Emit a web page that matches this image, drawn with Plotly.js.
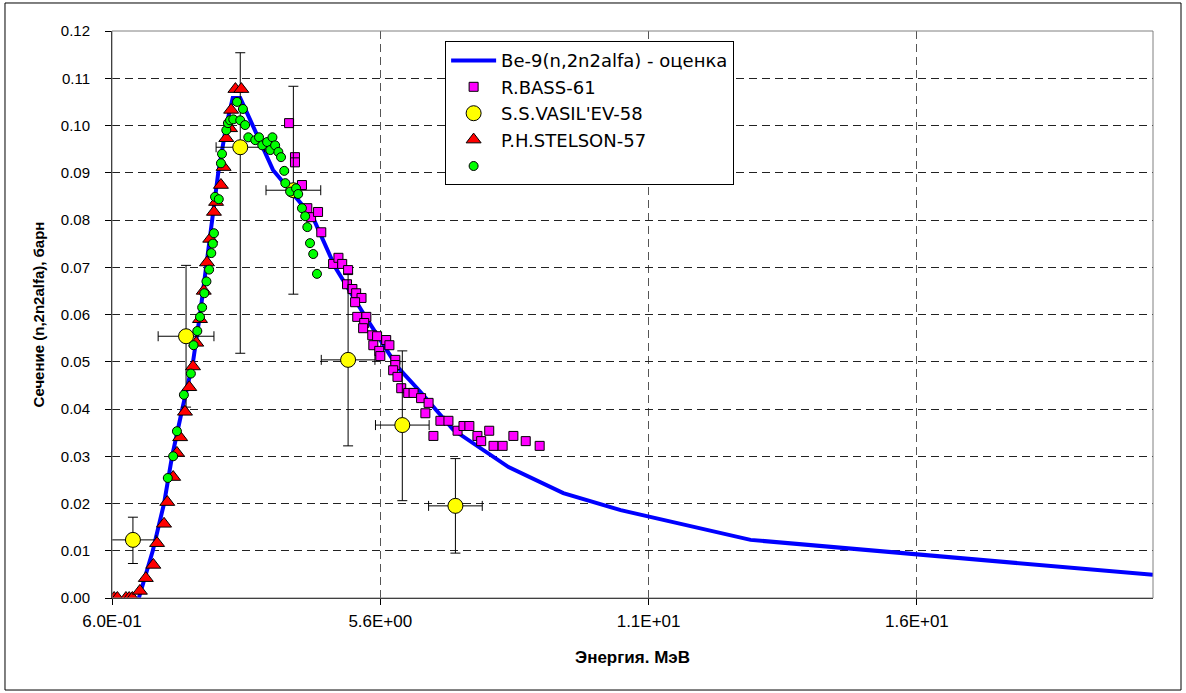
<!DOCTYPE html>
<html>
<head>
<meta charset="utf-8">
<script src="https://cdn.plot.ly/plotly-3.0.1.min.js"></script>
<style>html,body{margin:0;padding:0;background:#fff;}#chart{width:1186px;height:693px;}</style>
</head>
<body>
<div id="chart"></div>
<script>
// Evaluated curve Be-9(n,2n2alfa)
const evalE = [1.10,1.36,1.57,1.72,1.91,2.11,2.24,2.35,2.47,2.58,2.73,2.85,2.99,3.60,4.35,4.76,5.28,5.92,6.35,6.96,7.99,9.01,10.08,11.1,12.5,20.0];
const evalS = [0,0.010,0.020,0.030,0.040,0.050,0.060,0.070,0.080,0.090,0.100,0.1058,0.1058,0.0906,0.0804,0.0700,0.0603,0.0489,0.0436,0.0356,0.0277,0.0222,0.0186,0.0159,0.0123,0.0049];

// R.BASS-61
const bassE = [3.90,4.01,4.01,4.14,4.24,4.31,4.44,4.50,4.72,4.82,4.89,5.00,4.98,5.08,5.15,5.25,5.13,5.17,5.34,5.30,5.28,5.45,5.54,5.71,5.47,5.77,5.58,5.60,5.88,5.88,5.84,5.92,5.99,6.12,6.22,6.36,6.50,6.44,6.59,6.72,6.87,7.04,7.15,7.26,7.41,7.48,7.63,7.71,7.88,8.08,8.31,8.57];
const bassS = [0.1005,0.0933,0.0922,0.0874,0.0825,0.0806,0.0817,0.0774,0.0707,0.0720,0.0707,0.0694,0.0664,0.0654,0.0645,0.0635,0.0626,0.0595,0.0595,0.0582,0.0571,0.0556,0.0554,0.0546,0.0535,0.0535,0.0523,0.0512,0.0504,0.0493,0.0482,0.0468,0.0444,0.0434,0.0434,0.0423,0.0413,0.0391,0.0343,0.0375,0.0375,0.0354,0.0364,0.0364,0.0343,0.0332,0.0354,0.0322,0.0322,0.0343,0.0332,0.0322];

// S.S.VASIL'EV-58
const vasE = [0.99,1.98,2.99,3.98,5.00,6.01,7.00];
const vasS = [0.0123,0.0554,0.0954,0.0863,0.0504,0.0366,0.0195];
const vasErrPlus = [0.0048,0.0150,0.0200,0.0220,0.0182,0.0157,0.0100];
const vasErrMinus = [0.0050,0.0150,0.0436,0.0220,0.0182,0.0160,0.0100];
const vasErrE = [0.43,0.52,0.45,0.51,0.50,0.50,0.50];

// P.H.STELSON-57
const stelE = [0.58,0.64,0.70,0.86,0.92,0.98,1.12,1.23,1.37,1.44,1.57,1.63,1.74,1.81,1.87,1.96,2.04,2.11,2.17,2.24,2.31,2.37,2.43,2.50,2.54,2.63,2.68,2.73,2.80,2.82,2.90,3.01];
const stelS = [0,0,0,0,0,0,0.0015,0.0042,0.0070,0.0116,0.0157,0.0203,0.0256,0.0307,0.0340,0.0394,0.0446,0.0490,0.0540,0.0590,0.0650,0.0710,0.0760,0.0817,0.0838,0.0874,0.0912,0.0973,0.0994,0.1033,0.1077,0.1077];

// unnamed series (green)
const grnE = [1.64,1.74,1.81,1.94,2.07,2.12,2.19,2.24,2.28,2.32,2.36,2.41,2.45,2.48,2.50,2.52,2.59,2.63,2.65,2.73,2.76,2.80,2.86,2.93,2.99,3.04,3.08,3.14,3.27,3.34,3.40,3.49,3.59,3.55,3.64,3.70,3.75,3.81,3.83,3.92,4.03,4.07,4.14,4.20,4.24,4.29,4.35,4.42];
const grnS = [0.0254,0.0300,0.0353,0.0430,0.0475,0.0535,0.0565,0.0595,0.0615,0.0645,0.0670,0.0695,0.0730,0.0750,0.0772,0.0849,0.0844,0.0920,0.0940,0.0990,0.1005,0.1011,0.1013,0.1050,0.1011,0.1035,0.1001,0.0975,0.0969,0.0975,0.0958,0.0965,0.0975,0.0948,0.0958,0.0944,0.0933,0.0904,0.0878,0.0860,0.0867,0.0855,0.0825,0.0808,0.0785,0.0751,0.0728,0.0686];

const xTickVals = [0.6,5.6,10.6,15.6];
const xTickText = ['6.0E-01','5.6E+00','1.1E+01','1.6E+01'];

const FONT = 'Liberation Sans, Arial, sans-serif';

const traces = [
  {x: evalE, y: evalS, mode: 'lines', name: 'Be-9(n,2n2alfa) - оценка', legendgroup: 'g1',
   line: {color: '#0000FF', width: 4}},
  {x: bassE, y: bassS, mode: 'markers', name: 'R.BASS-61', legendgroup: 'g2',
   marker: {symbol: 'square', size: 9, color: '#FF00FF', line: {color: '#000', width: 1}}},
  {x: vasE, y: vasS, mode: 'markers', name: "S.S.VASIL'EV-58", legendgroup: 'g3',
   marker: {symbol: 'circle', size: 15, color: '#FFFF00', line: {color: '#000', width: 1}},
   error_y: {type: 'data', symmetric: false, array: vasErrPlus, arrayminus: vasErrMinus, color: '#000', thickness: 1, width: 5},
   error_x: {type: 'data', array: vasErrE, color: '#000', thickness: 1, width: 5}},
  {x: stelE, y: stelS, mode: 'markers', name: 'P.H.STELSON-57', legendgroup: 'g4',
   marker: {symbol: 'triangle-up', size: 13, color: '#FF0000', line: {color: '#000', width: 1}}},
  {x: grnE, y: grnS, mode: 'markers', name: ' ', legendgroup: 'g5',
   marker: {symbol: 'circle', size: 9, color: '#00FF00', line: {color: '#000', width: 1}}}
];

const layout = {
  width: 1186, height: 693,
  margin: {l: 112, r: 33, t: 31, b: 95, pad: 0},
  paper_bgcolor: '#fff', plot_bgcolor: '#fff',
  font: {family: FONT, size: 14, color: '#000'},
  showlegend: true,
  legend: {x: 0.32, y: 0.982, xanchor: 'left', yanchor: 'top',
    bgcolor: '#fff', bordercolor: '#000', borderwidth: 1,
    font: {family: 'DejaVu Sans, sans-serif', size: 18, color: '#000'}, tracegroupgap: 0, itemwidth: 45},
  xaxis: {
    range: [0.6, 20.0], tickmode: 'array', tickvals: xTickVals, ticktext: xTickText,
    showgrid: true, gridcolor: '#555', griddash: '8px,5px', gridwidth: 1,
    zeroline: false, showline: true, linecolor: '#000', linewidth: 1,
    ticks: 'outside', ticklen: 6, tickcolor: '#000', ticklabelstandoff: 2,
    tickfont: {family: FONT, size: 17},
    title: {text: '<b>Энергия. МэВ</b>', font: {family: FONT, size: 17}, standoff: 20},
    automargin: false
  },
  yaxis: {
    range: [0, 0.12], dtick: 0.01, tickformat: '.2f',
    showgrid: true, gridcolor: '#222', griddash: '8px,5px', gridwidth: 1,
    zeroline: false, showline: true, linecolor: '#000', linewidth: 1,
    ticks: 'outside', ticklen: 6, tickcolor: '#000', ticklabelstandoff: 12,
    tickfont: {family: FONT, size: 15},
    title: {text: '<b>Сечение (n,2n2alfa), барн</b>', font: {family: FONT, size: 15}, standoff: 12},
    automargin: false
  },
  shapes: [
    {type: 'rect', xref: 'paper', yref: 'paper', x0: 0, x1: 1, y0: 0, y1: 1,
     line: {color: '#808080', width: 1}, fillcolor: 'rgba(0,0,0,0)', layer: 'above'},
    {type: 'rect', xref: 'paper', yref: 'paper', x0: -0.1028, x1: 1.0269, y0: -0.1623, y1: 1.0494,
     line: {color: '#000', width: 1}, fillcolor: 'rgba(0,0,0,0)'}
  ]
};

Plotly.newPlot('chart', traces, layout, {displayModeBar: false, staticPlot: true});
</script>
</body>
</html>
